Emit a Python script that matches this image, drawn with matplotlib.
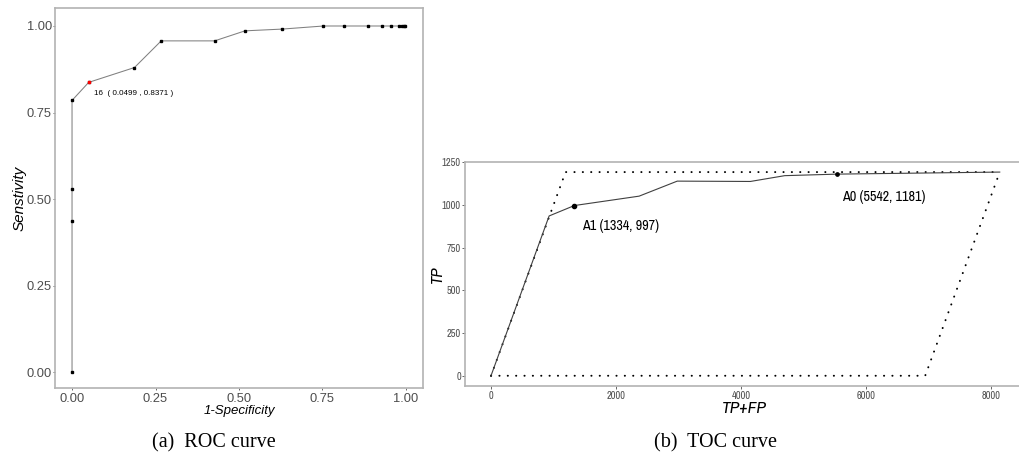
import matplotlib
matplotlib.use("Agg")
import matplotlib.pyplot as plt

# ROC curve points (1-specificity, sensitivity)
roc_fpr = [0.0, 0.0, 0.0, 0.0, 0.0499, 0.187, 0.267, 0.427, 0.518, 0.628,
           0.753, 0.814, 0.887, 0.927, 0.955, 0.980, 0.988, 0.994, 0.998]
roc_tpr = [0.0, 0.436, 0.529, 0.785, 0.8371, 0.880, 0.957, 0.957, 0.986, 0.991,
           1.0, 1.0, 1.0, 1.0, 1.0, 1.0, 1.0, 1.0, 1.0]
best_idx = 4
best_label = "16  ( 0.0499 , 0.8371 )"
roc_ticks = [0.0, 0.25, 0.5, 0.75, 1.0]
roc_ticklabels = ["0.00", "0.25", "0.50", "0.75", "1.00"]

# TOC curve
toc_x = [0, 930, 1334, 2370, 2980, 4150, 4700, 5542, 8140]
toc_y = [0, 936, 997, 1052, 1140, 1138, 1172, 1181, 1193]
n_pos = 1193
n_all = 8140
max_x = [0, n_pos, n_all]
max_y = [0, n_pos, n_pos]
min_x = [0, n_all - n_pos, n_all]
min_y = [0, 0, n_pos]
toc_pts = [(1334, 997, "A1 (1334, 997)"), (5542, 1181, "A0 (5542, 1181)")]
toc_xticks = [0, 2000, 4000, 6000, 8000]
toc_yticks = [0, 250, 500, 750, 1000, 1250]

W, H = 1019, 461
fig = plt.figure(figsize=(W / 100, H / 100), dpi=100)
sans = ["Liberation Sans", "DejaVu Sans"]
narrow = ["Archivo Narrow", "Liberation Sans", "DejaVu Sans"]
grey_spine = "#B3B3B3"
tick_col = "#4D4D4D"


def px_axes(l, t, r, b):
    return fig.add_axes([l / W, 1 - b / H, (r - l) / W, (b - t) / H])


# ---- ROC panel ----
ax1 = px_axes(55, 8, 423, 388)
ax1.plot(roc_fpr, roc_tpr, color="#808080", lw=0.75, zorder=2)
ax1.plot(roc_fpr, roc_tpr, ls="none", marker="s", ms=1.6, color="black", zorder=3)
ax1.plot(roc_fpr[best_idx], roc_tpr[best_idx], ls="none", marker="s", ms=1.8,
         color="red", zorder=4)
ax1.text(roc_fpr[best_idx] + 0.015, roc_tpr[best_idx] - 0.032, best_label,
         fontsize=5.8, family=sans, va="center", ha="left", color="black")
ax1.set_xlim(-0.051, 1.051)
ax1.set_ylim(-0.046, 1.052)
ax1.set_xticks(roc_ticks)
ax1.set_xticklabels(roc_ticklabels)
ax1.set_yticks(roc_ticks)
ax1.set_yticklabels(roc_ticklabels)
ax1.tick_params(labelsize=9.3, colors=tick_col, length=1.6, width=0.6)
ax1.tick_params(axis="x", pad=2.0)
ax1.tick_params(axis="y", pad=0.6)
for lab in ax1.get_xticklabels() + ax1.get_yticklabels():
    lab.set_family(sans)
for s in ax1.spines.values():
    s.set_color(grey_spine)
    s.set_linewidth(1.2)
ax1.set_xlabel("1-Specificity", fontsize=9.5, style="italic", family=sans, labelpad=0)
ax1.set_ylabel("Senstivity", fontsize=11, style="italic", family=sans)
ax1.yaxis.set_label_coords(-0.076, 0.5)

# ---- TOC panel ----
ax2 = px_axes(465, 162, 1023, 386)
ax2.plot(max_x, max_y, color="black", lw=1.4, ls=(0, (0.1, 4.2)),
         dash_capstyle="round", zorder=2)
ax2.plot(min_x, min_y, color="black", lw=1.4, ls=(0, (0.1, 4.2)),
         dash_capstyle="round", zorder=2)
ax2.plot(toc_x, toc_y, color="#404040", lw=0.8, zorder=3)
label_shift = [(122, -144), (74, -158)]
for i, (px, py, lab) in enumerate(toc_pts):
    ax2.plot(px, py, "o", color="black", ms=3.0 if i == 0 else 2.4, zorder=4)
    ax2.text(px + label_shift[i][0], py + label_shift[i][1], lab, fontsize=10.2,
             family=narrow, ha="left", va="baseline", color="black")
ax2.set_xlim(-416, 8512)
ax2.set_ylim(-60, 1252)
ax2.set_xticks(toc_xticks)
ax2.set_yticks(toc_yticks)
ax2.tick_params(labelsize=7.5, colors=tick_col, length=2.0, width=0.6)
ax2.tick_params(axis="x", pad=1.4)
ax2.tick_params(axis="y", pad=0.9)
for lab in ax2.get_xticklabels() + ax2.get_yticklabels():
    lab.set_family(narrow)
for s in ax2.spines.values():
    s.set_color(grey_spine)
    s.set_linewidth(1.2)
ax2.set_xlabel("TP+FP", fontsize=12.5, style="italic", family=narrow)
ax2.xaxis.set_label_coords(0.5, -0.068)
ax2.set_ylabel("TP", fontsize=12, style="italic", family=narrow)
ax2.yaxis.set_label_coords(-0.036, 0.5)

# captions
serif = ["Liberation Serif", "DejaVu Serif"]
fig.text(214 / W, 1 - 443 / H, "(a)  ROC curve", fontsize=14.5, family=serif,
         ha="center", va="center")
fig.text(716 / W, 1 - 443 / H, "(b)  TOC curve", fontsize=14.5, family=serif,
         ha="center", va="center")

fig.savefig("out.png", dpi=100)
